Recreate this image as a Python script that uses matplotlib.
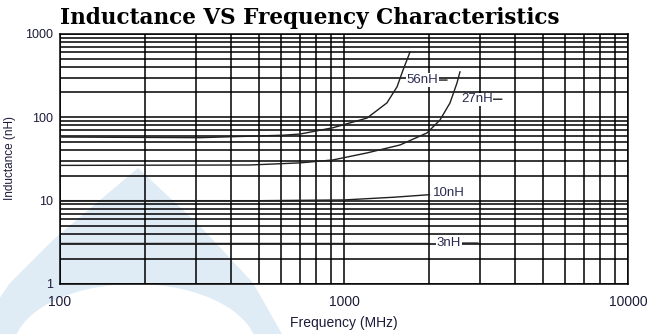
import numpy as np
import matplotlib
matplotlib.use("Agg")
import matplotlib.pyplot as plt
from matplotlib.patches import Polygon, Ellipse
from matplotlib.ticker import LogLocator, FixedLocator, NullFormatter

# curve data (freq in MHz, inductance in nH)
f_56 = [100, 311, 610, 700, 914, 1205, 1416, 1537, 1614, 1708]
l_56 = [58, 57, 61, 63, 75, 98, 149, 232, 370, 609]

f_27 = [100, 467, 700, 914, 1205, 1575, 1960, 2178, 2362, 2500, 2560]
l_27 = [26.5, 26.8, 28.4, 30.8, 37.4, 46.6, 65, 93, 149, 259, 351]

f_10 = [100, 500, 1000, 1500, 2000]
l_10 = [10, 10, 10.2, 11, 11.8]

f_3 = [100, 2000]
l_3 = [3.1, 3.1]

labels = ["56nH", "27nH", "10nH", "3nH"]
label_pos = [(1660, 280), (2580, 165), (2050, 12.3), (2120, 3.1)]
# end points of the short leader dashes after some labels (None = no dash)
leader_end = [(2307, 280), (3597, 165), None, (2965, 3.1)]

x_ticks = [100, 1000, 10000]
y_ticks = [1, 10, 100, 1000]

W, H = 647, 334
fig = plt.figure(figsize=(W / 100, H / 100), dpi=100)

# faint logo watermark behind the chart (figure pixel coords)
wm = '#dfebf5'
tri_px = [(138, 168), (200, 226), (253, 283), (282, 334),
          (-25, 334), (10, 283), (53, 240)]
tri = Polygon([(x / W, 1 - y / H) for x, y in tri_px], closed=True,
              transform=fig.transFigure, facecolor=wm, edgecolor='none',
              zorder=-2)
arch = Ellipse((135 / W, 1 - 350 / H), 244 / W, 132 / H,
               transform=fig.transFigure, facecolor='white',
               edgecolor='none', zorder=-1)
fig.patches.extend([tri, arch])

ax = fig.add_axes([60 / W, 50 / H, 568 / W, 250 / H])
ax.patch.set_visible(False)
ax.set_xscale('log')
ax.set_yscale('log')
ax.set_xlim(100, 10000)
ax.set_ylim(1, 1000)

ax.xaxis.set_major_locator(FixedLocator(x_ticks))
ax.yaxis.set_major_locator(FixedLocator(y_ticks))
ax.xaxis.set_minor_locator(LogLocator(base=10, subs=np.arange(2, 10)))
ax.yaxis.set_minor_locator(LogLocator(base=10, subs=np.arange(2, 10)))
ax.xaxis.set_minor_formatter(NullFormatter())
ax.yaxis.set_minor_formatter(NullFormatter())
ax.set_xticklabels([str(v) for v in x_ticks])
ax.set_yticklabels([str(v) for v in y_ticks])

ax.grid(True, which='both', color='black', linewidth=1.1)
ax.set_axisbelow(True)
ax.tick_params(which='both', length=0)
ax.tick_params(axis='x', pad=8, labelsize=10, labelcolor='#1c1c3a')
ax.tick_params(axis='y', pad=5, labelsize=9, labelcolor='#1c1c3a')
for lab in ax.get_xticklabels() + ax.get_yticklabels():
    lab.set_family('Liberation Sans')
for s in ax.spines.values():
    s.set_linewidth(1.1)

for fx, lx in [(f_56, l_56), (f_27, l_27), (f_10, l_10), (f_3, l_3)]:
    ax.plot(fx, lx, color='#202020', linewidth=1.0, zorder=3)

for name, pos, end in zip(labels, label_pos, leader_end):
    box = dict(facecolor='white', edgecolor='none', pad=0.5)
    if end is None:
        ax.text(pos[0], pos[1], name, fontsize=9.5, family='Liberation Sans',
                color='#2a2a50', ha='left', va='center', zorder=4, bbox=box)
    else:
        ax.annotate(name, xy=end, xytext=pos, fontsize=9.5,
                    family='Liberation Sans', color='#2a2a50', ha='left',
                    va='center', zorder=4, bbox=box,
                    arrowprops=dict(arrowstyle='-', color='#202020',
                                    linewidth=1.0, shrinkA=0, shrinkB=0))

ax.set_xlabel('Frequency (MHz)', fontsize=10, family='Liberation Sans',
              color='#1c1c3a')
ax.xaxis.set_label_coords(0.5, -0.128)
ax.set_ylabel('Inductance (nH)', fontsize=8.5, family='Liberation Sans',
              color='#1c1c3a', va='center')
ax.yaxis.set_label_coords(-0.088, 0.504)

fig.text(60 / W, 1 - 18 / H, 'Inductance VS Frequency Characteristics',
         fontsize=15.5, fontweight='bold', family='DejaVu Serif',
         ha='left', va='center')

fig.savefig('out.png', dpi=100)
